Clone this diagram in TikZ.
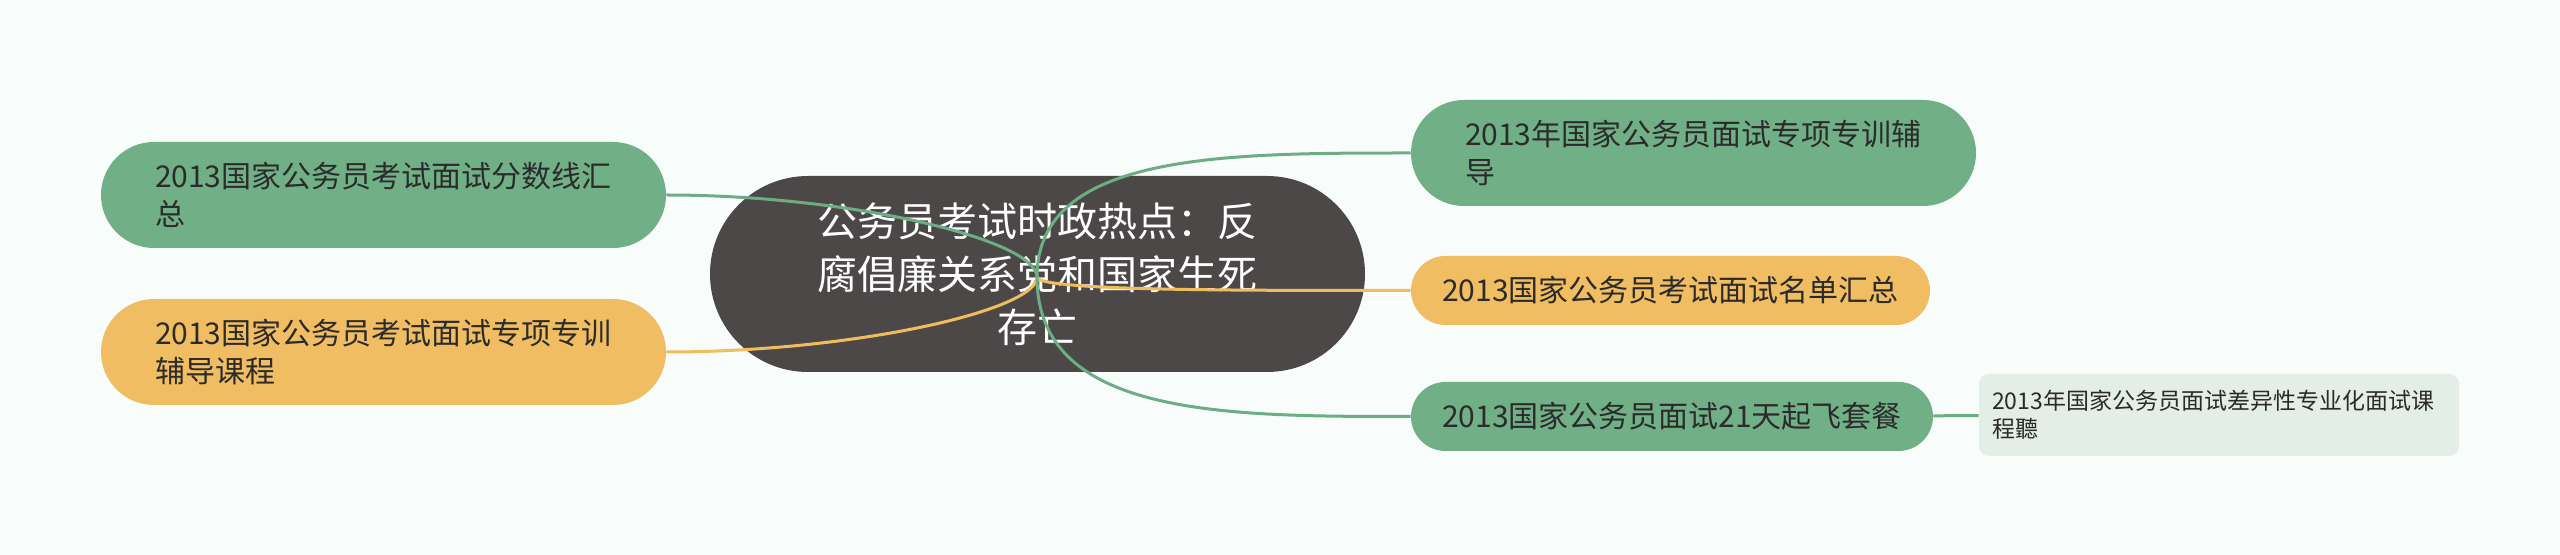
\documentclass[tikz,border=0pt]{standalone}
\usepackage{fontspec}
\setmainfont{Noto Sans CJK SC}
\definecolor{hubfill}{HTML}{4D4848}
\definecolor{grn}{HTML}{71B087}
\definecolor{grnline}{HTML}{6DAD84}
\definecolor{org}{HTML}{F1BD62}
\definecolor{orgline}{HTML}{F0BC5E}
\definecolor{chld}{HTML}{E3EEE6}
\definecolor{txt}{HTML}{2B2B2B}
\definecolor{bg}{HTML}{F8FCFB}
\usetikzlibrary{calc}

\begin{document}
\begin{tikzpicture}[x=0.5pt,y=-0.5pt,
    hb/.style={fill=hubfill,rounded corners=49pt,minimum width=327.5pt,minimum height=98pt,
      text width=222pt,align=center,inner sep=0pt,text=white,
      font=\fontsize{20}{26.5}\selectfont},
    lg/.style={fill=grn,rounded corners=26.5pt,minimum height=53pt,
      text width=228.5pt,align=left,inner xsep=27pt,inner ysep=0pt,text=txt,
      font=\fontsize{15}{19}\selectfont},
    lo/.style={lg,fill=org},
    ls/.style={rounded corners=17.25pt,minimum height=34.5pt,inner sep=0pt,text=txt,
      font=\fontsize{15}{19}\selectfont},
    lc/.style={fill=chld,rounded corners=5pt,minimum height=41pt,
      text width=227pt,align=left,inner xsep=6.5pt,inner ysep=0pt,text=txt,
      font=\fontsize{11.5}{14}\selectfont},
    cg/.style={draw=grnline,line width=1.5pt},
    co/.style={draw=orgline,line width=1.5pt},
  ]
    \fill[bg] (0,0) rectangle (2560,555);
    \useasboundingbox (0,0) rectangle (2560,555);

    \node[hb](c) at (1037.5,274)
      {公务员考试时政热点：反\\腐倡廉关系党和国家生死\\存亡};
    \node[lg](l1) at (383.5,195) {2013国家公务员考试面试分数线汇\\总};
    \node[lo](l2) at (383.5,352) {2013国家公务员考试面试专项专训\\辅导课程};
    \node[lg](r1) at (1693.5,153) {2013年国家公务员面试专项专训辅\\导};
    \node[ls,fill=org,minimum width=259.5pt](r2) at (1670.5,290.5)
      {2013国家公务员考试面试名单汇总};
    \node[ls,fill=grn,minimum width=261pt](r3) at (1672,416.5)
      {2013国家公务员面试21天起飞套餐};
    \node[lc](ch) at (2219,415) {2013年国家公务员面试差异性专业化面试课\\程聽};

    \coordinate (hub) at (1037,277);
    \draw[cg](hub) .. controls ($(hub)!0.45!(hub |- l1.east)$)
      and ($(hub |- l1.east)!0.5!(l1.east)$) .. (l1.east);
    \draw[co](hub) .. controls ($(hub)!0.45!(hub |- l2.east)$)
      and ($(hub |- l2.east)!0.5!(l2.east)$) .. (l2.east);
    \draw[cg](hub) .. controls (hub |- r1.west)
      and ($(hub |- r1.west)!0.5!(r1.west)$) .. (r1.west);
    \draw[co](hub) .. controls (hub |- r2.west)
      and ($(hub |- r2.west)!0.5!(r2.west)$) .. (r2.west);
    \draw[cg](hub) .. controls (hub |- r3.west)
      and ($(hub |- r3.west)!0.5!(r3.west)$) .. (r3.west);
    \draw[cg](r3)--(ch);
  \end{tikzpicture}
\end{document}
